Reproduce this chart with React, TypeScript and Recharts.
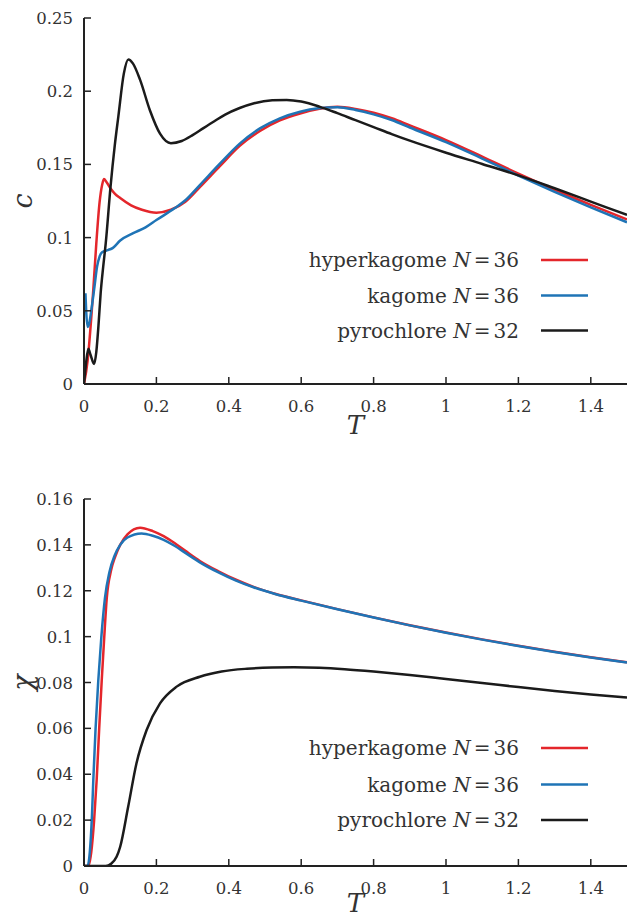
import React from 'react';
import { LineChart, Line, XAxis, YAxis } from 'recharts';

// temperature ticks shared by both panels
const T_TICKS = [0, 0.2, 0.4, 0.6, 0.8, 1, 1.2, 1.4];
const C_TICKS = [0, 0.05, 0.1, 0.15, 0.2, 0.25];
const CHI_TICKS = [0, 0.02, 0.04, 0.06, 0.08, 0.1, 0.12, 0.14, 0.16];

const SERIES_NAMES = ['hyperkagome', 'kagome', 'pyrochlore'];
const SERIES_N = [36, 36, 32];
const SERIES_COLORS = ['#e4262b', '#1f74b6', '#1b1b1b'];

// specific heat c(T)
const cHyperkagome = [
  [0, 0], [0.01, 0.016], [0.02, 0.045], [0.025, 0.062], [0.034, 0.096], [0.043, 0.124],
  [0.05, 0.136], [0.055, 0.14], [0.062, 0.138], [0.075, 0.133], [0.085, 0.13], [0.1, 0.127],
  [0.13, 0.122], [0.16, 0.119], [0.2, 0.117], [0.24, 0.119], [0.28, 0.1245], [0.32, 0.1345],
  [0.376, 0.149], [0.431, 0.1628], [0.486, 0.1728], [0.541, 0.18], [0.597, 0.1848],
  [0.647, 0.1878], [0.7, 0.1893], [0.75, 0.1879], [0.8, 0.1853], [0.85, 0.1815], [0.9, 0.1766],
  [1.0, 0.1666], [1.1, 0.1553], [1.2, 0.1437], [1.3, 0.1327], [1.4, 0.1224], [1.5, 0.1124],
];
const cKagome = [
  [0.004, 0.062], [0.006, 0.05], [0.01, 0.039], [0.014, 0.041], [0.02, 0.05], [0.029, 0.0665],
  [0.036, 0.08], [0.043, 0.087], [0.05, 0.09], [0.066, 0.0915], [0.08, 0.093], [0.1, 0.098],
  [0.136, 0.103], [0.17, 0.107], [0.2, 0.112], [0.25, 0.12], [0.28, 0.1255], [0.32, 0.1359],
  [0.376, 0.1507], [0.431, 0.1644], [0.486, 0.1746], [0.541, 0.1815], [0.597, 0.186],
  [0.647, 0.1883], [0.7, 0.189], [0.75, 0.1872], [0.8, 0.1842], [0.85, 0.1803], [0.9, 0.1752],
  [1.0, 0.1652], [1.1, 0.154], [1.2, 0.1424], [1.3, 0.1313], [1.4, 0.1207], [1.5, 0.1105],
];
const cPyrochlore = [
  [0, 0], [0.006, 0.015], [0.012, 0.024], [0.018, 0.02], [0.028, 0.0137], [0.034, 0.022],
  [0.04, 0.04], [0.046, 0.062], [0.053, 0.08], [0.06, 0.096], [0.073, 0.134], [0.085, 0.163],
  [0.095, 0.183], [0.11, 0.212], [0.1225, 0.2217], [0.135, 0.219], [0.155, 0.2077],
  [0.182, 0.187], [0.21, 0.171], [0.24, 0.1645], [0.27, 0.166], [0.3, 0.17], [0.33, 0.1748],
  [0.36, 0.1795], [0.39, 0.184], [0.43, 0.1885], [0.47, 0.1918], [0.52, 0.1938], [0.56, 0.194],
  [0.6, 0.1929], [0.65, 0.1895], [0.7, 0.185], [0.75, 0.1802], [0.8, 0.1755], [0.85, 0.1707],
  [0.9, 0.1662], [1.0, 0.158], [1.1, 0.1503], [1.2, 0.1425], [1.3, 0.1337], [1.4, 0.1246],
  [1.5, 0.1155],
];

// susceptibility chi(T)
const chiHyperkagome = [
  [0, 0], [0.012, 0], [0.02, 0.006], [0.028, 0.02], [0.035, 0.0375], [0.042, 0.06],
  [0.049, 0.081], [0.056, 0.1], [0.063, 0.117], [0.075, 0.129], [0.086, 0.1348], [0.1, 0.14],
  [0.12, 0.1446], [0.155, 0.1475], [0.19, 0.146], [0.22, 0.1438], [0.25, 0.1408], [0.28, 0.1374],
  [0.32, 0.133], [0.37, 0.1286], [0.42, 0.1248], [0.47, 0.1216], [0.53, 0.1186], [0.6, 0.1158],
  [0.7, 0.112], [0.8, 0.1084], [0.9, 0.105], [1.0, 0.1018], [1.1, 0.0988], [1.2, 0.096],
  [1.3, 0.0934], [1.4, 0.091], [1.5, 0.0888],
];
const chiKagome = [
  [0, 0], [0.01, 0], [0.016, 0.006], [0.022, 0.022], [0.0257, 0.0375], [0.032, 0.06],
  [0.0395, 0.081], [0.048, 0.1], [0.058, 0.117], [0.07, 0.128], [0.085, 0.1355], [0.1, 0.14],
  [0.12, 0.1432], [0.159, 0.145], [0.19, 0.144], [0.22, 0.1422], [0.25, 0.1396], [0.28, 0.1365],
  [0.32, 0.1324], [0.37, 0.1281], [0.42, 0.1244], [0.47, 0.1214], [0.53, 0.1185], [0.6, 0.1157],
  [0.7, 0.1119], [0.8, 0.1083], [0.9, 0.1049], [1.0, 0.1017], [1.1, 0.0987], [1.2, 0.0959],
  [1.3, 0.0933], [1.4, 0.0909], [1.5, 0.0887],
];
const chiPyrochlore = [
  [0, 0], [0.06, 0], [0.075, 0.001], [0.09, 0.004], [0.1, 0.0084], [0.122, 0.0258],
  [0.145, 0.0448], [0.173, 0.0593], [0.21, 0.0709], [0.256, 0.0782], [0.32, 0.0825],
  [0.38, 0.0848], [0.45, 0.086], [0.52, 0.0865], [0.58, 0.0866], [0.65, 0.0864], [0.72, 0.0858],
  [0.8, 0.0848], [0.9, 0.0833], [1.0, 0.0815], [1.1, 0.0798], [1.2, 0.078], [1.3, 0.0763],
  [1.4, 0.0748], [1.5, 0.0735],
];

const FONT = "'DejaVu Serif', 'Liberation Serif', serif";
const FRAME = '#222';
const TEXT = '#333';
const TICK_LEN = 7;

const toRows = (pts: number[][]) => pts.map(([T, v]) => ({ T, v }));
const fmt = (v: number) => String(v);
const tickText = { fontFamily: FONT, fontSize: 16.5, fill: TEXT };

const BottomTick = ({ x, y, payload }: any) => (
  <g>
    <line x1={x} x2={x} y1={y} y2={y - TICK_LEN} stroke={FRAME} strokeWidth={1.5} />
    <text x={x} y={y + 28} textAnchor="middle" style={tickText}>
      {fmt(payload.value)}
    </text>
  </g>
);
const TopTick = ({ x, y }: any) => (
  <line x1={x} x2={x} y1={y} y2={y + TICK_LEN} stroke={FRAME} strokeWidth={1.5} />
);
const LeftTick = ({ x, y, payload }: any) => (
  <g>
    <line x1={x} x2={x + TICK_LEN} y1={y} y2={y} stroke={FRAME} strokeWidth={1.5} />
    <text x={x - 11} y={y + 6} textAnchor="end" style={tickText}>
      {fmt(payload.value)}
    </text>
  </g>
);
const RightTick = ({ x, y }: any) => (
  <line x1={x} x2={x - TICK_LEN} y1={y} y2={y} stroke={FRAME} strokeWidth={1.5} />
);

function Panel({
  series,
  yTicks,
  yMax,
  yTitle,
  top,
  height,
  marginTop,
  xAxisHeight,
  titleDy,
  legendY,
}: {
  series: number[][][];
  yTicks: number[];
  yMax: number;
  yTitle: string;
  top: number;
  height: number;
  marginTop: number;
  xAxisHeight: number;
  titleDy: number;
  legendY: number[];
}) {
  const plotTop = marginTop;
  const plotBottom = height - xAxisHeight;
  const yMid = (plotTop + plotBottom) / 2;
  return (
    <div style={{ position: 'absolute', left: 0, top, width: 628, height }}>
      <LineChart width={628} height={height} margin={{ top: marginTop, right: 1, bottom: 0, left: 0 }}>
        <XAxis
          dataKey="T"
          type="number"
          domain={[0, 1.5]}
          ticks={T_TICKS}
          interval={0}
          allowDataOverflow
          height={xAxisHeight}
          axisLine={{ stroke: FRAME, strokeWidth: 2 }}
          tickLine={false}
          tickSize={0}
          tickMargin={0}
          tick={<BottomTick />}
          label={({ viewBox }: any) => (
            <text
              x={viewBox.x + viewBox.width / 2}
              y={viewBox.y + titleDy}
              textAnchor="middle"
              style={{ fontFamily: FONT, fontStyle: 'italic', fontSize: 26, fill: TEXT }}
            >
              T
            </text>
          )}
        />
        <XAxis
          xAxisId="top"
          orientation="top"
          dataKey="T"
          type="number"
          domain={[0, 1.5]}
          ticks={T_TICKS}
          interval={0}
          height={0}
          axisLine={{ stroke: FRAME, strokeWidth: 2 }}
          tickLine={false}
          tickSize={0}
          tickMargin={0}
          tick={<TopTick />}
        />
        <YAxis
          type="number"
          domain={[0, yMax]}
          ticks={yTicks}
          interval={0}
          allowDataOverflow
          width={84}
          axisLine={{ stroke: FRAME, strokeWidth: 2 }}
          tickLine={false}
          tickSize={0}
          tickMargin={0}
          tick={<LeftTick />}
        />
        <YAxis
          yAxisId="right"
          orientation="right"
          type="number"
          domain={[0, yMax]}
          ticks={yTicks}
          interval={0}
          width={0}
          axisLine={{ stroke: FRAME, strokeWidth: 2 }}
          tickLine={false}
          tickSize={0}
          tickMargin={0}
          tick={<RightTick />}
        />
        {series.map((pts, i) => (
          <Line
            key={SERIES_NAMES[i]}
            data={toRows(pts)}
            dataKey="v"
            type="monotone"
            stroke={SERIES_COLORS[i]}
            strokeWidth={2.5}
            dot={false}
            activeDot={false}
            isAnimationActive={false}
          />
        ))}
      </LineChart>
      <svg
        width={628}
        height={height}
        style={{ position: 'absolute', left: 0, top: 0, pointerEvents: 'none' }}
      >
        <text
          x={32}
          y={yMid}
          transform={`rotate(-90, 32, ${yMid})`}
          textAnchor="middle"
          style={{ fontFamily: FONT, fontStyle: 'italic', fontSize: 27, fill: TEXT }}
        >
          {yTitle}
        </text>
        {SERIES_NAMES.map((name, i) => (
          <g key={name}>
            <text
              x={519}
              y={legendY[i] + 7}
              textAnchor="end"
              style={{ fontFamily: FONT, fontSize: 20, fill: TEXT }}
            >
              {name + ' '}
              <tspan style={{ fontStyle: 'italic' }}>N</tspan>
              <tspan dx={3}>=</tspan>
              <tspan dx={3}>{SERIES_N[i]}</tspan>
            </text>
            <line
              x1={541}
              x2={588}
              y1={legendY[i]}
              y2={legendY[i]}
              stroke={SERIES_COLORS[i]}
              strokeWidth={2.5}
            />
          </g>
        ))}
      </svg>
    </div>
  );
}

export default function App() {
  return (
    <div style={{ position: 'absolute', left: 0, top: 0, width: 628, height: 918, background: '#fff' }}>
      <Panel
        series={[cHyperkagome, cKagome, cPyrochlore]}
        yTicks={C_TICKS}
        yMax={0.25}
        yTitle="c"
        top={0}
        height={459}
        marginTop={18}
        xAxisHeight={75}
        titleDy={50}
        legendY={[260, 295.5, 330.5]}
      />
      <Panel
        series={[chiHyperkagome, chiKagome, chiPyrochlore]}
        yTicks={CHI_TICKS}
        yMax={0.16}
        yTitle="χ"
        top={459}
        height={459}
        marginTop={40}
        xAxisHeight={52}
        titleDy={46}
        legendY={[289, 325.5, 361]}
      />
    </div>
  );
}
